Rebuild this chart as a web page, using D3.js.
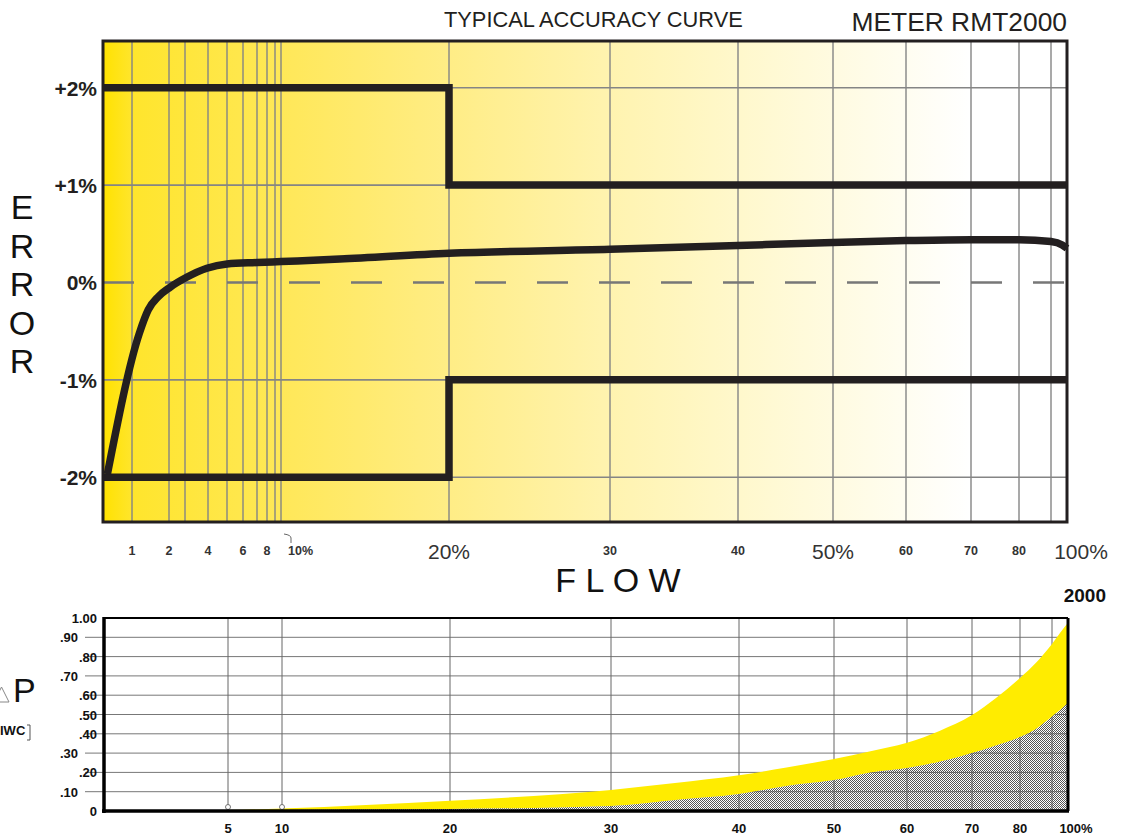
<!DOCTYPE html>
<html>
<head>
<meta charset="utf-8">
<script src="https://cdn.jsdelivr.net/npm/d3@7"></script>
<style>
  body { margin: 0; background: #fff; }
  svg { display: block; font-family: "Liberation Sans", Arial, Helvetica, sans-serif; }
</style>
</head>
<body>
<svg id="chart" width="1122" height="836"></svg>
<script>
// 流量軸の目盛り (%) と、その目盛りの間隔 (幅964を基準にした位置)
const axisFlows = [0, 1, 2, 3, 4, 5, 6, 7, 8, 9, 10, 20, 30, 40, 50, 60, 70, 80, 90, 100];
const axisStops = [0, 29, 66, 82, 105, 124, 140, 154, 164, 172, 178, 346, 507, 635, 730, 803, 868, 916, 948, 964];

// 精度曲線の目盛り
const topTickValues = [1, 2, 4, 6, 8, 10, 20, 30, 40, 50, 60, 70, 80, 100];
const topTickText = ["1", "2", "4", "6", "8", "10%", "20%", "30", "40", "50%", "60", "70", "80", "100%"];
const errorTicks = [2, 1, 0, -1, -2];
const errorTickText = ["+2%", "+1%", "0%", "-1%", "-2%"];

// 許容範囲 (誤差 %)
const limitFlow = [0, 20, 20, 100];
const upperLimit = [2, 2, 1, 1];
const lowerLimit = [-2, -2, -1, -1];

// 代表的な誤差曲線
const errFlow = [0.15, 1.2, 1.44, 1.71, 2.06, 3.07, 3.95, 5, 7, 10, 13.5, 20, 30, 40, 50, 60, 70, 80, 90, 97, 100];
const errValue = [-1.97, -0.52, -0.28, -0.146, -0.05, 0.053, 0.146, 0.19, 0.205, 0.215, 0.24, 0.3, 0.34, 0.38, 0.41, 0.43, 0.44, 0.44, 0.42, 0.385, 0.35];

// 圧力損失 (IWC)
const dpFlow = [0, 5, 10, 20, 30, 35, 40, 45, 50, 55, 60, 65, 70, 75, 80, 85, 90, 95, 100];
const dpUpper = [0, 0.005, 0.013, 0.053, 0.109, 0.145, 0.185, 0.225, 0.27, 0.31, 0.354, 0.415, 0.497, 0.585, 0.689, 0.768, 0.865, 0.922, 0.975];
const dpLower = [0, 0.002, 0.005, 0.01, 0.026, 0.057, 0.088, 0.13, 0.16, 0.2, 0.223, 0.255, 0.3, 0.34, 0.383, 0.425, 0.489, 0.523, 0.561];
const dpTicks = [0, 0.1, 0.2, 0.3, 0.4, 0.5, 0.6, 0.7, 0.8, 0.9, 1.0];
const dpTickText = ["0", ".10", ".20", ".30", ".40", ".50", ".60", ".70", ".80", ".90", "1.00"];
const dpShifted = [0.1, 0.3, 0.7, 0.9];
const dpGridFlows = [5, 10, 20, 30, 40, 50, 60, 70, 80, 90];
const dpTickValues = [5, 10, 20, 30, 40, 50, 60, 70, 80, 100];
const dpTickLabels = ["5", "10", "20", "30", "40", "50", "60", "70", "80", "100%"];

const ink = "#231f20";
const svg = d3.select("#chart");
svg.append("rect").attr("width", 1122).attr("height", 836).attr("fill", "#fff");

function flowScale(left, right) {
    const w = right - left;
    return d3.scaleLinear().domain(axisFlows).range(axisStops.map(s => left + s * w / 964));
}

// ---------- 上段: 精度曲線 ----------
const upBox = { left: 103, right: 1067, top: 41, bottom: 522 };
const x1 = flowScale(upBox.left, upBox.right);
const y1 = d3.scaleLinear().domain([-2.46, 2.48]).range([upBox.bottom, upBox.top]);

const defs = svg.append("defs");
const grad = defs.append("linearGradient").attr("id", "bg")
    .attr("x1", 0).attr("x2", 1).attr("y1", 0).attr("y2", 0);
[[0, "#ffe200"], [0.03, "#ffe52c"], [0.2, "#ffe85c"], [0.36, "#ffed86"],
 [0.52, "#fff3ae"], [0.66, "#fff8cc"], [0.83, "#fffdf0"], [0.9, "#ffffff"]]
    .forEach(([o, c]) => grad.append("stop").attr("offset", o).attr("stop-color", c));

svg.append("rect")
    .attr("x", upBox.left).attr("y", upBox.top)
    .attr("width", upBox.right - upBox.left).attr("height", upBox.bottom - upBox.top)
    .attr("fill", "url(#bg)");

// 縦グリッド
svg.append("g").selectAll("line")
    .data(axisFlows.filter(f => f > 0 && f < 100))
    .enter().append("line")
    .attr("x1", d => x1(d)).attr("x2", d => x1(d))
    .attr("y1", upBox.top).attr("y2", upBox.bottom)
    .attr("stroke", "#858585").attr("stroke-width", 1.4);

// 横グリッド
svg.append("g").selectAll("line")
    .data(errorTicks.filter(d => d !== 0))
    .enter().append("line")
    .attr("x1", upBox.left).attr("x2", upBox.right)
    .attr("y1", d => y1(d)).attr("y2", d => y1(d))
    .attr("stroke", "#858585").attr("stroke-width", 1.6);

// 0% の破線
svg.append("line")
    .attr("x1", upBox.left).attr("x2", upBox.right)
    .attr("y1", y1(0)).attr("y2", y1(0))
    .attr("stroke", "#777").attr("stroke-width", 2.5)
    .attr("stroke-dasharray", "31,31");

const limitLine = d3.line().x(d => x1(d[0])).y(d => y1(d[1]));
[upperLimit, lowerLimit].forEach(lim => {
    svg.append("path")
        .attr("d", limitLine(limitFlow.map((f, i) => [f, lim[i]])))
        .attr("fill", "none").attr("stroke", ink).attr("stroke-width", 7.5)
        .attr("stroke-linejoin", "miter");
});

const errLine = d3.line().x(d => x1(d[0])).y(d => y1(d[1])).curve(d3.curveMonotoneX);
svg.append("path")
    .attr("d", errLine(errFlow.map((f, i) => [f, errValue[i]])))
    .attr("fill", "none").attr("stroke", ink).attr("stroke-width", 7.5)
    .attr("stroke-linejoin", "round");

svg.append("rect")
    .attr("x", upBox.left).attr("y", upBox.top)
    .attr("width", upBox.right - upBox.left).attr("height", upBox.bottom - upBox.top)
    .attr("fill", "none").attr("stroke", ink).attr("stroke-width", 3);

// 誤差の目盛りラベル
svg.append("g").selectAll("text")
    .data(errorTicks)
    .enter().append("text")
    .attr("x", 97).attr("y", d => y1(d) + 8)
    .attr("text-anchor", "end")
    .attr("font-size", 21).attr("font-weight", "bold").attr("fill", ink)
    .text((d, i) => errorTickText[i]);

// 流量の目盛りラベル
const bigTicks = [20, 50, 100];
svg.append("g").selectAll("text")
    .data(topTickValues)
    .enter().append("text")
    .attr("x", d => d === 10 ? x1(d) + 7 : d === 100 ? x1(d) + 14 : x1(d))
    .attr("y", d => bigTicks.includes(d) ? 559 : 555)
    .attr("text-anchor", d => d === 10 ? "start" : "middle")
    .attr("font-size", d => bigTicks.includes(d) ? 21 : 12.5)
    .attr("font-weight", d => bigTicks.includes(d) ? "normal" : "bold")
    .attr("fill", "#333")
    .text((d, i) => topTickText[i]);

svg.append("path")
    .attr("d", `M${x1(10) + 3},534 Q${x1(10) + 10},535 ${x1(10) + 10},538 L${x1(10) + 10},543`)
    .attr("fill", "none").attr("stroke", "#666").attr("stroke-width", 1);

// タイトル
svg.append("text").attr("x", 444).attr("y", 27)
    .attr("font-size", 21.8).attr("fill", ink).text("TYPICAL ACCURACY CURVE");
svg.append("text").attr("x", 1067).attr("y", 31).attr("text-anchor", "end")
    .attr("font-size", 26.4).attr("fill", ink).text("METER RMT2000");

// 軸タイトル
svg.append("g").selectAll("text")
    .data("ERROR".split(""))
    .enter().append("text")
    .attr("x", 22).attr("y", (d, i) => 219 + i * 38.5)
    .attr("text-anchor", "middle")
    .attr("font-size", 34).attr("fill", "#111")
    .text(d => d);
svg.append("text").attr("x", 618).attr("y", 592).attr("text-anchor", "middle")
    .attr("font-size", 34).attr("fill", "#111").text("F L O W");

// ---------- 下段: 圧力損失 ----------
const lowBox = { left: 104, right: 1068, top: 618, bottom: 811 };
const x2 = flowScale(lowBox.left, lowBox.right);
const y2 = d3.scaleLinear().domain([0, 1]).range([lowBox.bottom, lowBox.top]);

const hatch = defs.append("pattern").attr("id", "hatch")
    .attr("patternUnits", "userSpaceOnUse").attr("width", 2).attr("height", 2);
hatch.append("rect").attr("x", 0).attr("y", 0).attr("width", 1).attr("height", 1).attr("fill", "#555");
hatch.append("rect").attr("x", 1).attr("y", 1).attr("width", 1).attr("height", 1).attr("fill", "#555");

svg.append("g").selectAll("line")
    .data(dpTicks.filter(d => d > 0 && d < 1))
    .enter().append("line")
    .attr("x1", 85).attr("x2", lowBox.right)
    .attr("y1", d => y2(d)).attr("y2", d => y2(d))
    .attr("stroke", "#777").attr("stroke-width", 1);

svg.append("g").selectAll("line")
    .data(dpGridFlows)
    .enter().append("line")
    .attr("x1", d => x2(d)).attr("x2", d => x2(d))
    .attr("y1", lowBox.top).attr("y2", lowBox.bottom)
    .attr("stroke", "#666").attr("stroke-width", 1);

const dpPts = dpFlow.map((f, i) => ({ f, lo: dpLower[i], hi: dpUpper[i] }));
svg.append("path")
    .attr("d", d3.area().x(d => x2(d.f)).y0(d => y2(d.lo)).y1(d => y2(d.hi))
        .curve(d3.curveMonotoneX)(dpPts))
    .attr("fill", "#ffec00");
svg.append("path")
    .attr("d", d3.area().x(d => x2(d.f)).y0(y2(0)).y1(d => y2(d.lo))
        .curve(d3.curveMonotoneX)(dpPts))
    .attr("fill", "url(#hatch)");

svg.append("g").selectAll("circle")
    .data([5, 10])
    .enter().append("circle")
    .attr("cx", d => x2(d)).attr("cy", lowBox.bottom - 4).attr("r", 2.5)
    .attr("fill", "#fff").attr("stroke", "#555").attr("stroke-width", 0.8);

// 枠
svg.append("line").attr("x1", lowBox.left).attr("x2", lowBox.right)
    .attr("y1", lowBox.top).attr("y2", lowBox.top).attr("stroke", "#000").attr("stroke-width", 2);
svg.append("line").attr("x1", lowBox.right).attr("x2", lowBox.right)
    .attr("y1", lowBox.top).attr("y2", lowBox.bottom).attr("stroke", "#000").attr("stroke-width", 3);
svg.append("line").attr("x1", lowBox.left).attr("x2", lowBox.left)
    .attr("y1", lowBox.top - 1).attr("y2", lowBox.bottom + 2).attr("stroke", "#000").attr("stroke-width", 3.5);
svg.append("line").attr("x1", lowBox.left - 2).attr("x2", lowBox.right + 1)
    .attr("y1", lowBox.bottom).attr("y2", lowBox.bottom).attr("stroke", "#000").attr("stroke-width", 3.5);

svg.append("g").selectAll("text")
    .data(dpTicks)
    .enter().append("text")
    .attr("x", d => dpShifted.includes(d) ? 78 : 97)
    .attr("y", d => y2(d) + 5)
    .attr("text-anchor", "end")
    .attr("font-size", 13).attr("font-weight", "bold").attr("fill", "#111")
    .text((d, i) => dpTickText[i]);

svg.append("g").selectAll("text")
    .data(dpTickValues)
    .enter().append("text")
    .attr("x", d => d === 100 ? x2(d) + 8 : x2(d))
    .attr("y", 833)
    .attr("text-anchor", "middle")
    .attr("font-size", 13).attr("font-weight", "bold").attr("fill", "#111")
    .text((d, i) => dpTickLabels[i]);

svg.append("text").attr("x", 1106).attr("y", 602).attr("text-anchor", "end")
    .attr("font-size", 19).attr("font-weight", "bold").attr("fill", "#111").text("2000");

// ΔP [IWC]
svg.append("path").attr("d", "M-6,702 L9,702 L1.5,687 Z")
    .attr("fill", "none").attr("stroke", "#888").attr("stroke-width", 1);
svg.append("text").attr("x", 13).attr("y", 702)
    .attr("font-size", 34).attr("fill", "#111").text("P");
svg.append("text").attr("x", 0).attr("y", 735)
    .attr("font-size", 13).attr("font-weight", "bold").attr("fill", "#111").text("IWC");
svg.append("path").attr("d", "M27,725 L30,725 L30,740 L27,740")
    .attr("fill", "none").attr("stroke", "#555").attr("stroke-width", 1);
</script>
</body>
</html>
